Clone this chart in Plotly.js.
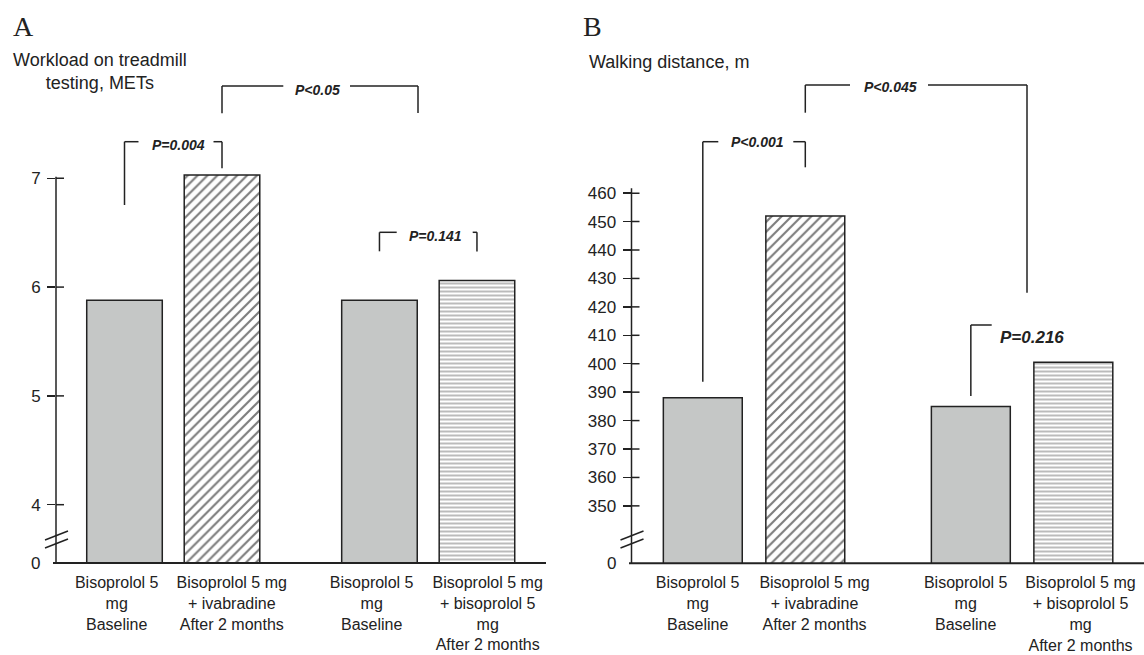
<!DOCTYPE html>
<html>
<head>
<meta charset="utf-8">
<script src="https://cdn.plot.ly/plotly-3.0.1.min.js"></script>
<style>html,body{margin:0;padding:0;background:#fff;}#chart{width:1144px;height:655px;}</style>
</head>
<body>
<div id="chart"></div>
<script>
// ---------------- data ----------------
const barLabels = [
  "Bisoprolol 5<br>mg<br>Baseline",
  "Bisoprolol 5 mg<br>+ ivabradine<br>After 2 months",
  "Bisoprolol 5<br>mg<br>Baseline",
  "Bisoprolol 5 mg<br>+ bisoprolol 5<br>mg<br>After 2 months"
];
const barKinds = ["baseline", "ivabradine", "baseline", "bisoprolol10"];
const workloadMETs = [5.88, 7.03, 5.88, 6.06];
const walkingDistance = [388, 452, 385, 400.5];
const yTicksA = [4, 5, 6, 7];
const yTicksB = [350, 360, 370, 380, 390, 400, 410, 420, 430, 440, 450, 460];
const pLabelsA = ["P=0.004", "P<0.05", "P=0.141"];
const pLabelsB = ["P<0.001", "P<0.045", "P=0.216"];
const titleA = "Workload on treadmill<br>testing, METs";
const titleB = "Walking distance, m";

// ---------------- layout helpers ----------------
const W = 1144, H = 655;
const px = x => x / W;
const py = y => 1 - y / H;
const GROUP_GAP = 0.615;
const slot = i => i + (i >= 2 ? GROUP_GAP : 0);
const xs = barLabels.map((_, i) => slot(i));
// label centres are slightly offset from bar centres in the original figure
const labelShiftA = [-0.08, 0.1, -0.08, 0.11];
const labelShiftB = [-0.05, 0.09, -0.05, 0.07];

const axA = {x0: 56, x1: 548, xr: [-0.7026, 4.3436], yTop: 69.5, yBot: 563, yr: [3.464, 8.0]};
const axB = {x0: 631.5, x1: 1144, xr: [-0.6956, 4.3044], yTop: 69.5, yBot: 563.3, yr: [329.8, 503.5]};
const xPix = (ax, v) => ax.x0 + (v - ax.xr[0]) / (ax.xr[1] - ax.xr[0]) * (ax.x1 - ax.x0);

const INK = '#222';
const FONT = 'Liberation Sans, Arial, sans-serif';

const styles = {
  baseline:     {color: '#c5c7c6', line: {color: INK, width: 1.5}},
  ivabradine:   {color: 'white', line: {color: INK, width: 1.5},
                 pattern: {shape: '/', fgcolor: '#7d7d7d', bgcolor: 'white', size: 7, solidity: 0.3, fillmode: 'replace'}},
  bisoprolol10: {color: 'white', line: {color: INK, width: 1.5},
                 pattern: {shape: '-', fgcolor: '#b3b3b3', bgcolor: 'white', size: 4, solidity: 0.45, fillmode: 'replace'}}
};

const traces = [];
[['x', 'y', workloadMETs, 0.775], ['x2', 'y2', walkingDistance, 0.77]].forEach(([xa, ya, vals, w]) => {
  Object.keys(styles).forEach(kind => {
    const idx = barKinds.map((k, i) => k === kind ? i : -1).filter(i => i >= 0);
    traces.push({type: 'bar', x: idx.map(i => xs[i]), y: idx.map(i => vals[i]), width: w,
      xaxis: xa, yaxis: ya, marker: styles[kind], hoverinfo: 'skip', showlegend: false});
  });
});

const shapes = [];
const ln = (x0, y0, x1, y1, w) => shapes.push({type: 'line', xref: 'paper', yref: 'paper',
  x0: px(x0), y0: py(y0), x1: px(x1), y1: py(y1), line: {color: INK, width: w || 1.5}});

// axis lines
ln(axA.x0, axA.yBot, axA.x0, 176.7);
ln(53, axA.yBot, 546, axA.yBot, 2);
ln(axB.x0, axB.yBot, axB.x0, 188.3);
ln(629, axB.yBot, 1144, axB.yBot, 2);
// inner half of the cross ticks
yTicksA.forEach(v => shapes.push({type: 'line', xref: 'paper', yref: 'y', x0: px(axA.x0), x1: px(axA.x0 + 8), y0: v, y1: v, line: {color: INK, width: 1.5}}));
yTicksB.forEach(v => shapes.push({type: 'line', xref: 'paper', yref: 'y2', x0: px(axB.x0), x1: px(axB.x0 + 8), y0: v, y1: v, line: {color: INK, width: 1.5}}));
// axis break marks
[axA, axB].forEach(ax => {
  ln(ax.x0 - 11, 540, ax.x0 + 12, 531, 1.5);
  ln(ax.x0 - 11, 548, ax.x0 + 12, 539, 1.5);
});

// significance brackets
const annotations = [];
const pText = (t, x, y, size, anchor) => annotations.push({text: '<b><i>' + t + '</i></b>', xref: 'paper', yref: 'paper',
  x: px(x), y: py(y), xanchor: anchor || 'center', yanchor: 'middle', showarrow: false,
  font: {family: FONT, size: size || 14, color: INK}});

// Panel A
let c0 = xPix(axA, xs[0]), c1 = xPix(axA, xs[1]), c2 = xPix(axA, xs[2]), c3 = xPix(axA, xs[3]);
ln(c0, 205, c0, 141.7); ln(c0, 141.7, 138.5, 141.7); ln(213.5, 141.7, c1, 141.7); ln(c1, 141.7, c1, 168.3);
pText(pLabelsA[0], 178.3, 145);
ln(c1, 113.3, c1, 86); ln(c1, 86, 283.3, 86); ln(350, 86, 418, 86); ln(418, 86, 418, 113);
pText(pLabelsA[1], 317, 90);
ln(c2, 251.3, c2, 232.3); ln(c2, 232.3, 396.7, 232.3); ln(472.7, 232.3, c3, 232.3); ln(c3, 232.3, c3, 251.5);
pText(pLabelsA[2], 435, 236);

// Panel B
c0 = xPix(axB, xs[0]); c1 = xPix(axB, xs[1]); c2 = xPix(axB, xs[2]);
ln(c0, 381.7, c0, 141.7); ln(c0, 141.7, 718.3, 141.7); ln(793.3, 141.7, c1, 141.7); ln(c1, 141.7, c1, 167.3);
pText(pLabelsB[0], 757, 142);
ln(c1, 112.7, c1, 85); ln(c1, 85, 850, 85); ln(928, 85, 1027, 85); ln(1027, 85, 1027, 292.7);
pText(pLabelsB[1], 890, 87);
ln(c2, 396, c2, 325); ln(c2, 325, 991.7, 325);
pText(pLabelsB[2], 998, 337.5, 17, 'left');

// panel letters, axis titles, broken-axis zero labels
const txt = (t, x, y, opts) => annotations.push(Object.assign({text: t, xref: 'paper', yref: 'paper',
  x: px(x), y: py(y), showarrow: false, xanchor: 'left', yanchor: 'middle',
  font: {family: FONT, size: 18, color: INK}}, opts || {}));
txt('A', 11, 26, {font: {family: 'Liberation Serif, Times New Roman, serif', size: 28, color: INK}});
txt('B', 581, 26, {font: {family: 'Liberation Serif, Times New Roman, serif', size: 28, color: INK}});
txt(titleA, 11, 72, {align: 'center'});
txt(titleB, 587, 62);
txt('0', 42, 563, {xanchor: 'right', font: {family: FONT, size: 17, color: INK}});
txt('0', 618, 563.3, {xanchor: 'right', font: {family: FONT, size: 17, color: INK}});

const xBase = {tickmode: 'array', ticktext: barLabels, ticks: '', tickangle: 0, showline: false,
  zeroline: false, showgrid: false, fixedrange: true, automargin: false,
  tickfont: {family: FONT, size: 16, color: INK}, ticklabelstandoff: 8};
const yBase = {ticks: 'outside', ticklen: 8, tickwidth: 1.5, tickcolor: INK, showline: false,
  zeroline: false, showgrid: false, automargin: false,
  tickfont: {family: FONT, size: 17, color: INK}, ticklabelstandoff: 3};

const layout = {
  width: W, height: H, margin: {l: 0, r: 0, t: 0, b: 0},
  paper_bgcolor: 'white', plot_bgcolor: 'white', showlegend: false,
  barmode: 'overlay',
  xaxis: Object.assign({}, xBase, {domain: [px(axA.x0), px(axA.x1)], range: axA.xr, anchor: 'y',
    tickvals: xs.map((v, i) => v + labelShiftA[i])}),
  yaxis: Object.assign({}, yBase, {domain: [py(axA.yBot), py(axA.yTop)], range: axA.yr, anchor: 'x',
    tickmode: 'array', tickvals: yTicksA, ticktext: yTicksA.map(String)}),
  xaxis2: Object.assign({}, xBase, {domain: [px(axB.x0), px(axB.x1)], range: axB.xr, anchor: 'y2',
    tickvals: xs.map((v, i) => v + labelShiftB[i])}),
  yaxis2: Object.assign({}, yBase, {domain: [py(axB.yBot), py(axB.yTop)], range: axB.yr, anchor: 'x2',
    tickmode: 'array', tickvals: yTicksB, ticktext: yTicksB.map(String)}),
  shapes: shapes,
  annotations: annotations
};

Plotly.newPlot('chart', traces, layout, {displayModeBar: false, staticPlot: true});
</script>
</body>
</html>
